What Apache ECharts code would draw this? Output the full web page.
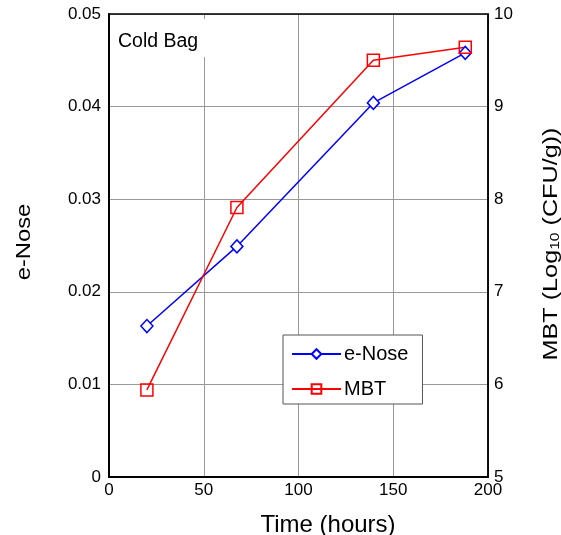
<!DOCTYPE html>
<html><head><meta charset="utf-8">
<script src="https://cdn.jsdelivr.net/npm/echarts@6/dist/echarts.min.js"></script>
<style>html,body{margin:0;padding:0;background:#fff}#c{width:561px;height:535px}</style>
</head><body><div id="c"></div>
<script>
const times = [20, 67.5, 139.5, 188];
const eNose = [0.0163, 0.0249, 0.0404, 0.0458];
const mbt = [5.94, 7.91, 9.50, 9.64];
const xTicks = [0, 50, 100, 150, 200];
const leftTicks = [0, 0.01, 0.02, 0.03, 0.04, 0.05];
const rightTicks = [5, 6, 7, 8, 9, 10];

const font = 'Liberation Sans, Arial, sans-serif';
const chart = echarts.init(document.getElementById('c'));
chart.setOption({
  animation: false,
  textStyle: {fontFamily: font},
  grid: {left: 109, right: 73, top: 14, bottom: 58, show: true, borderColor: '#000', borderWidth: 1.5, z: 3,
         containLabel: false, outerBoundsMode: 'none'},
  xAxis: {
    type: 'value', min: 0, max: 200, interval: 50,
    axisLine: {show: true, lineStyle: {color: '#000', width: 2}},
    axisTick: {show: false},
    axisLabel: {fontSize: 17, color: '#000', margin: 5, fontFamily: font,
      formatter: v => xTicks.includes(v) ? String(v) : ''},
    splitLine: {show: true, lineStyle: {color: '#999', width: 1}}
  },
  yAxis: [{
    type: 'value', min: 0, max: 0.05, interval: 0.01, position: 'left',
    axisLine: {show: true, lineStyle: {color: '#000', width: 2}},
    axisTick: {show: false},
    axisLabel: {fontSize: 17, color: '#000', margin: 8, fontFamily: font,
      formatter: v => leftTicks.includes(+v.toFixed(2)) ? String(+v.toFixed(2)) : ''},
    splitLine: {show: true, lineStyle: {color: '#999', width: 1}}
  }, {
    type: 'value', min: 5, max: 10, interval: 1, position: 'right',
    axisLine: {show: true, lineStyle: {color: '#000', width: 1.5}},
    axisTick: {show: false},
    axisLabel: {fontSize: 17, color: '#000', margin: 6, fontFamily: font,
      formatter: v => rightTicks.includes(v) ? String(v) : ''},
    splitLine: {show: false}
  }],
  legend: {
    orient: 'vertical', left: 283, top: 335, width: 139,
    backgroundColor: '#fff', borderColor: '#555', borderWidth: 1,
    padding: [9, 14, 5, 8], itemGap: 15, itemWidth: 49, itemHeight: 12,
    textStyle: {fontSize: 20, color: '#000', fontFamily: font, padding: [0, 0, 0, -2]},
    data: ['e-Nose', 'MBT']
  },
  series: [{
    name: 'e-Nose', type: 'line', yAxisIndex: 0,
    data: times.map((t, i) => [t, eNose[i]]),
    symbol: 'diamond', symbolSize: [12, 13], showAllSymbol: true,
    lineStyle: {color: '#0000ff', width: 1.5},
    itemStyle: {color: '#fff', borderColor: '#0000ff', borderWidth: 1.5},
    z: 4
  }, {
    name: 'MBT', type: 'line', yAxisIndex: 1,
    data: times.map((t, i) => [t, mbt[i]]),
    symbol: 'rect', symbolSize: 12,
    lineStyle: {color: '#ff0000', width: 1.5},
    itemStyle: {color: 'rgba(255,255,255,0)', borderColor: '#ff0000', borderWidth: 1.5},
    z: 4
  }],
  graphic: [{
    type: 'rect', left: 112, top: 19, shape: {width: 93, height: 38},
    style: {fill: '#fff'}, z: 5
  }, {
    type: 'text', left: 118, top: 32,
    style: {text: 'Cold Bag', font: '19.5px ' + font, fill: '#000'}, z: 6
  }, {
    type: 'text', x: 328, y: 525,
    style: {text: 'Time (hours)', font: '24px ' + font, fill: '#000', align: 'center', verticalAlign: 'middle'}, z: 6
  }, {
    type: 'text', x: 24, y: 242, rotation: Math.PI / 2, scaleX: 1.19,
    style: {text: 'e-Nose', font: '20px ' + font, fill: '#000', align: 'center', verticalAlign: 'middle'}, z: 6
  }, {
    type: 'text', x: 551, y: 244, rotation: Math.PI / 2, scaleX: 1.2,
    style: {text: '{a|MBT (Log}{b|10}{a| (CFU/g))}', fill: '#000', align: 'center', verticalAlign: 'middle',
      rich: {a: {fontSize: 21, fontFamily: font, fill: '#000', lineHeight: 22},
             b: {fontSize: 13, fontFamily: font, fill: '#000', verticalAlign: 'bottom', lineHeight: 22}}}, z: 6
  }]
});
</script></body></html>
